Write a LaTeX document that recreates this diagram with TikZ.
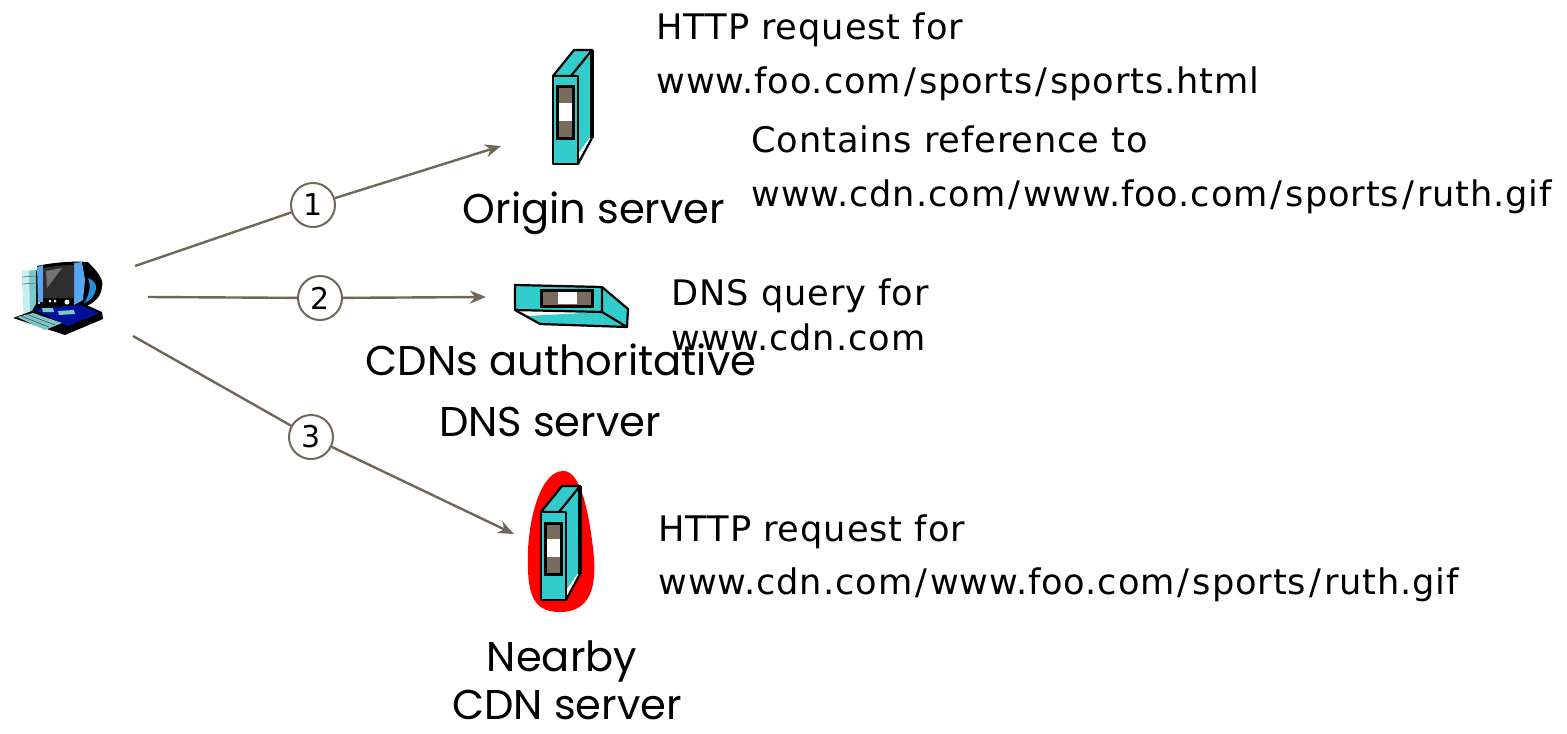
\documentclass[tikz,border=0pt]{standalone}
\usepackage{fontspec}
\setmainfont[LetterSpace=2.6]{DejaVu Sans}
\newfontfamily\labelfont{Poppins}
\usetikzlibrary{arrows.meta}
\definecolor{srvteal}{HTML}{33CCCC}
\definecolor{srvbrown}{HTML}{786C5E}
\definecolor{linkcol}{HTML}{6F6757}
\definecolor{pcblue}{HTML}{5AA5F0}
\definecolor{pcnavy}{HTML}{00109A}
\definecolor{pclight}{HTML}{C5EEEE}
\definecolor{pcmid}{HTML}{7CC8C8}
\newcommand{\slashsep}{\kern1.5pt/\kern1.5pt}
\tikzset{
  link/.style={draw=linkcol,line width=1.2pt},
  linkarrow/.style={link,-{Stealth[length=8pt,width=6.5pt]}},
  stepcircle/.style={circle,draw=linkcol,fill=white,line width=1pt,minimum size=22pt,inner sep=0pt,font=\fontsize{15}{18}\selectfont},
  note/.style={anchor=base west,inner sep=0pt,font=\fontsize{17.6}{20}\selectfont},
  srvlabel/.style={anchor=base,inner sep=0pt,font=\labelfont\fontsize{20.8}{24}\selectfont},
  box/.style={draw=black,line width=1.1pt,fill=srvteal,line join=round},
}
\newcommand{\towerserver}[2]{%
  \begin{scope}[shift={(#1,#2)}]
    \fill[white] (25,88) -- (25,78) -- (39,58) -- (39,62) -- cycle;
    \fill[srvteal] (18,0) -- (39,-26) -- (39,58) -- (25,78) -- (25,0) -- cycle;
    \draw[black,line width=1.1pt] (25,88) -- (39,62);
    \draw[black,line width=2pt] (39,-26) -- (39,62);
    \draw[box] (0,0) -- (21,-26) -- (39,-26) -- (18,0) -- cycle;
    \draw[box] (0,0) rectangle (25,88);
    \draw[black,line width=1.5pt,fill=srvbrown] (4,11) rectangle (20,62);
    \fill[white] (5.5,27) rectangle (18.5,45);
  \end{scope}}
\begin{document}
\begin{tikzpicture}[x=0.5pt,y=-0.5pt]
\useasboundingbox (0,0) rectangle (1567,733);
% Red highlight
\fill[red] (563,471) .. controls (580,470) and (588,510) .. (592,540)
  .. controls (597,575) and (597,612) .. (560,612)
  .. controls (530,612) and (527,590) .. (528,550)
  .. controls (530,510) and (543,471) .. (563,471) -- cycle;
% Servers
\towerserver{553}{76}
\towerserver{541}{512}
% DNS server
\fill[white] (515,310) -- (540,324) -- (602,312) -- cycle;
\fill[srvteal] (602,287) -- (628,309) -- (627,327) -- (540,324) -- (527,316) -- (602,312) -- cycle;
\draw[black,line width=1.1pt,line join=round] (515,310) -- (540,324) -- (627,327) -- (602,312);
\draw[black,line width=1.1pt,line join=round] (602,287) -- (628,309) -- (627,327);
\draw[box] (515,285) -- (602,287) -- (602,312) -- (515,310) -- cycle;
\draw[black,line width=1.5pt,fill=srvbrown] (541,290) rectangle (592,306);
\fill[white] (558,292) rectangle (577,304);
% Client computer: monitor back
\fill[black] (37,266) .. controls (55,262) and (75,261) .. (88,262)
  .. controls (98,272) and (104,280) .. (102,286)
  .. controls (102,295) and (95,304) .. (83,307) -- (40,305) -- cycle;
\fill[srvteal!70!blue] (88,278) .. controls (94,280) and (97,285) .. (96,289)
  .. controls (95,296) and (90,301) .. (84,303) .. controls (90,295) and (91,285) .. (88,278) -- cycle;
% Tower
\fill[black] (36,270) -- (38,272) -- (38,310) -- (30,316) -- cycle;
\fill[pcmid] (22,271) -- (36,270) -- (36,312) -- (24,315) -- cycle;
\fill[pclight] (22,271) -- (29,271) -- (30,314) -- (24,315) -- cycle;
\draw[black!60,line width=0.3pt] (22,277) -- (36,276) (22,284) -- (36,283);
% Base unit and keyboard
\fill[black] (13,318) -- (32,311) -- (36,304) -- (80,302) -- (102,312) -- (103,319) -- (65,335) -- cycle;
\fill[pcnavy] (33,309) -- (80,305) -- (100,313) -- (68,326) -- cycle;
\fill[pcmid] (42,308) -- (53,308) -- (54,312) -- (43,312) -- cycle (58,311) -- (74,310) -- (75,314) -- (59,315) -- cycle;
\fill[pcmid] (17,317) -- (33,313) -- (62,323) -- (45,330) -- cycle;
\draw[black!70,line width=0.3pt] (21,316) -- (49,327) (26,314) -- (55,325);
% Monitor front
\fill[black] (43,298) -- (74,298) -- (74,306) -- (43,306) -- cycle;
\fill[pcblue] (37,267) -- (43,265) -- (43,302) -- (38,302) -- cycle;
\fill[pcblue] (74,263) -- (82,262) -- (85,280) -- (83,300) -- (74,305) -- cycle;
\fill[black!82] (43,268) .. controls (55,266) and (65,265) .. (74,265) -- (74,298) -- (43,298) -- cycle;
\fill[black!55] (46,271) -- (62,268) -- (47,288) -- cycle;
\fill[white] (50,301) circle (1.5) (55,301) circle (1.5) (67,302) circle (2.5);
% Connector anchors and step circles
\coordinate (client1) at (135,266);
\coordinate (client2) at (148,297);
\coordinate (client3) at (133,336);
\coordinate (origin) at (501,146);
\coordinate (dns) at (486,297);
\coordinate (nearby) at (514,534);
\node[stepcircle] (s1) at (313,205) {1};
\node[stepcircle] (s2) at (320,298) {2};
\node[stepcircle] (s3) at (311,437) {3};
\draw[link] (client1) -- (s1);
\draw[linkarrow] (s1) -- (origin);
\draw[link] (client2) -- (s2);
\draw[linkarrow] (s2) -- (dns);
\draw[link] (client3) -- (s3);
\draw[linkarrow] (s3) -- (nearby);
% Notes
\node[note] (n1) at (656,40) {HTTP request for};
\node[note] (n2) at (656,94) {www.foo.com\slashsep sports\slashsep sports.html};
\node[note] (n3) at (751,152) {Contains reference to};
\node[note] (n4) at (751,206) {www.cdn.com\slashsep www.foo.com\slashsep sports\slashsep ruth.gif};
\node[note] (n5) at (671,305) {DNS query for};
\node[note] (n6) at (671,350) {www.cdn.com};
\node[note] (n7) at (658,541) {HTTP request for};
\node[note] (n8) at (658,594) {www.cdn.com\slashsep www.foo.com\slashsep sports\slashsep ruth.gif};
% Server labels
\node[srvlabel] (l1) at (594,223) {Origin server};
\node[srvlabel] (l2) at (561,375) {CDNs authoritative};
\node[srvlabel] (l3) at (550,436) {DNS server};
\node[srvlabel] (l4) at (562,671) {Nearby};
\node[srvlabel] (l5) at (567,719) {CDN server};
\end{tikzpicture}
\end{document}
